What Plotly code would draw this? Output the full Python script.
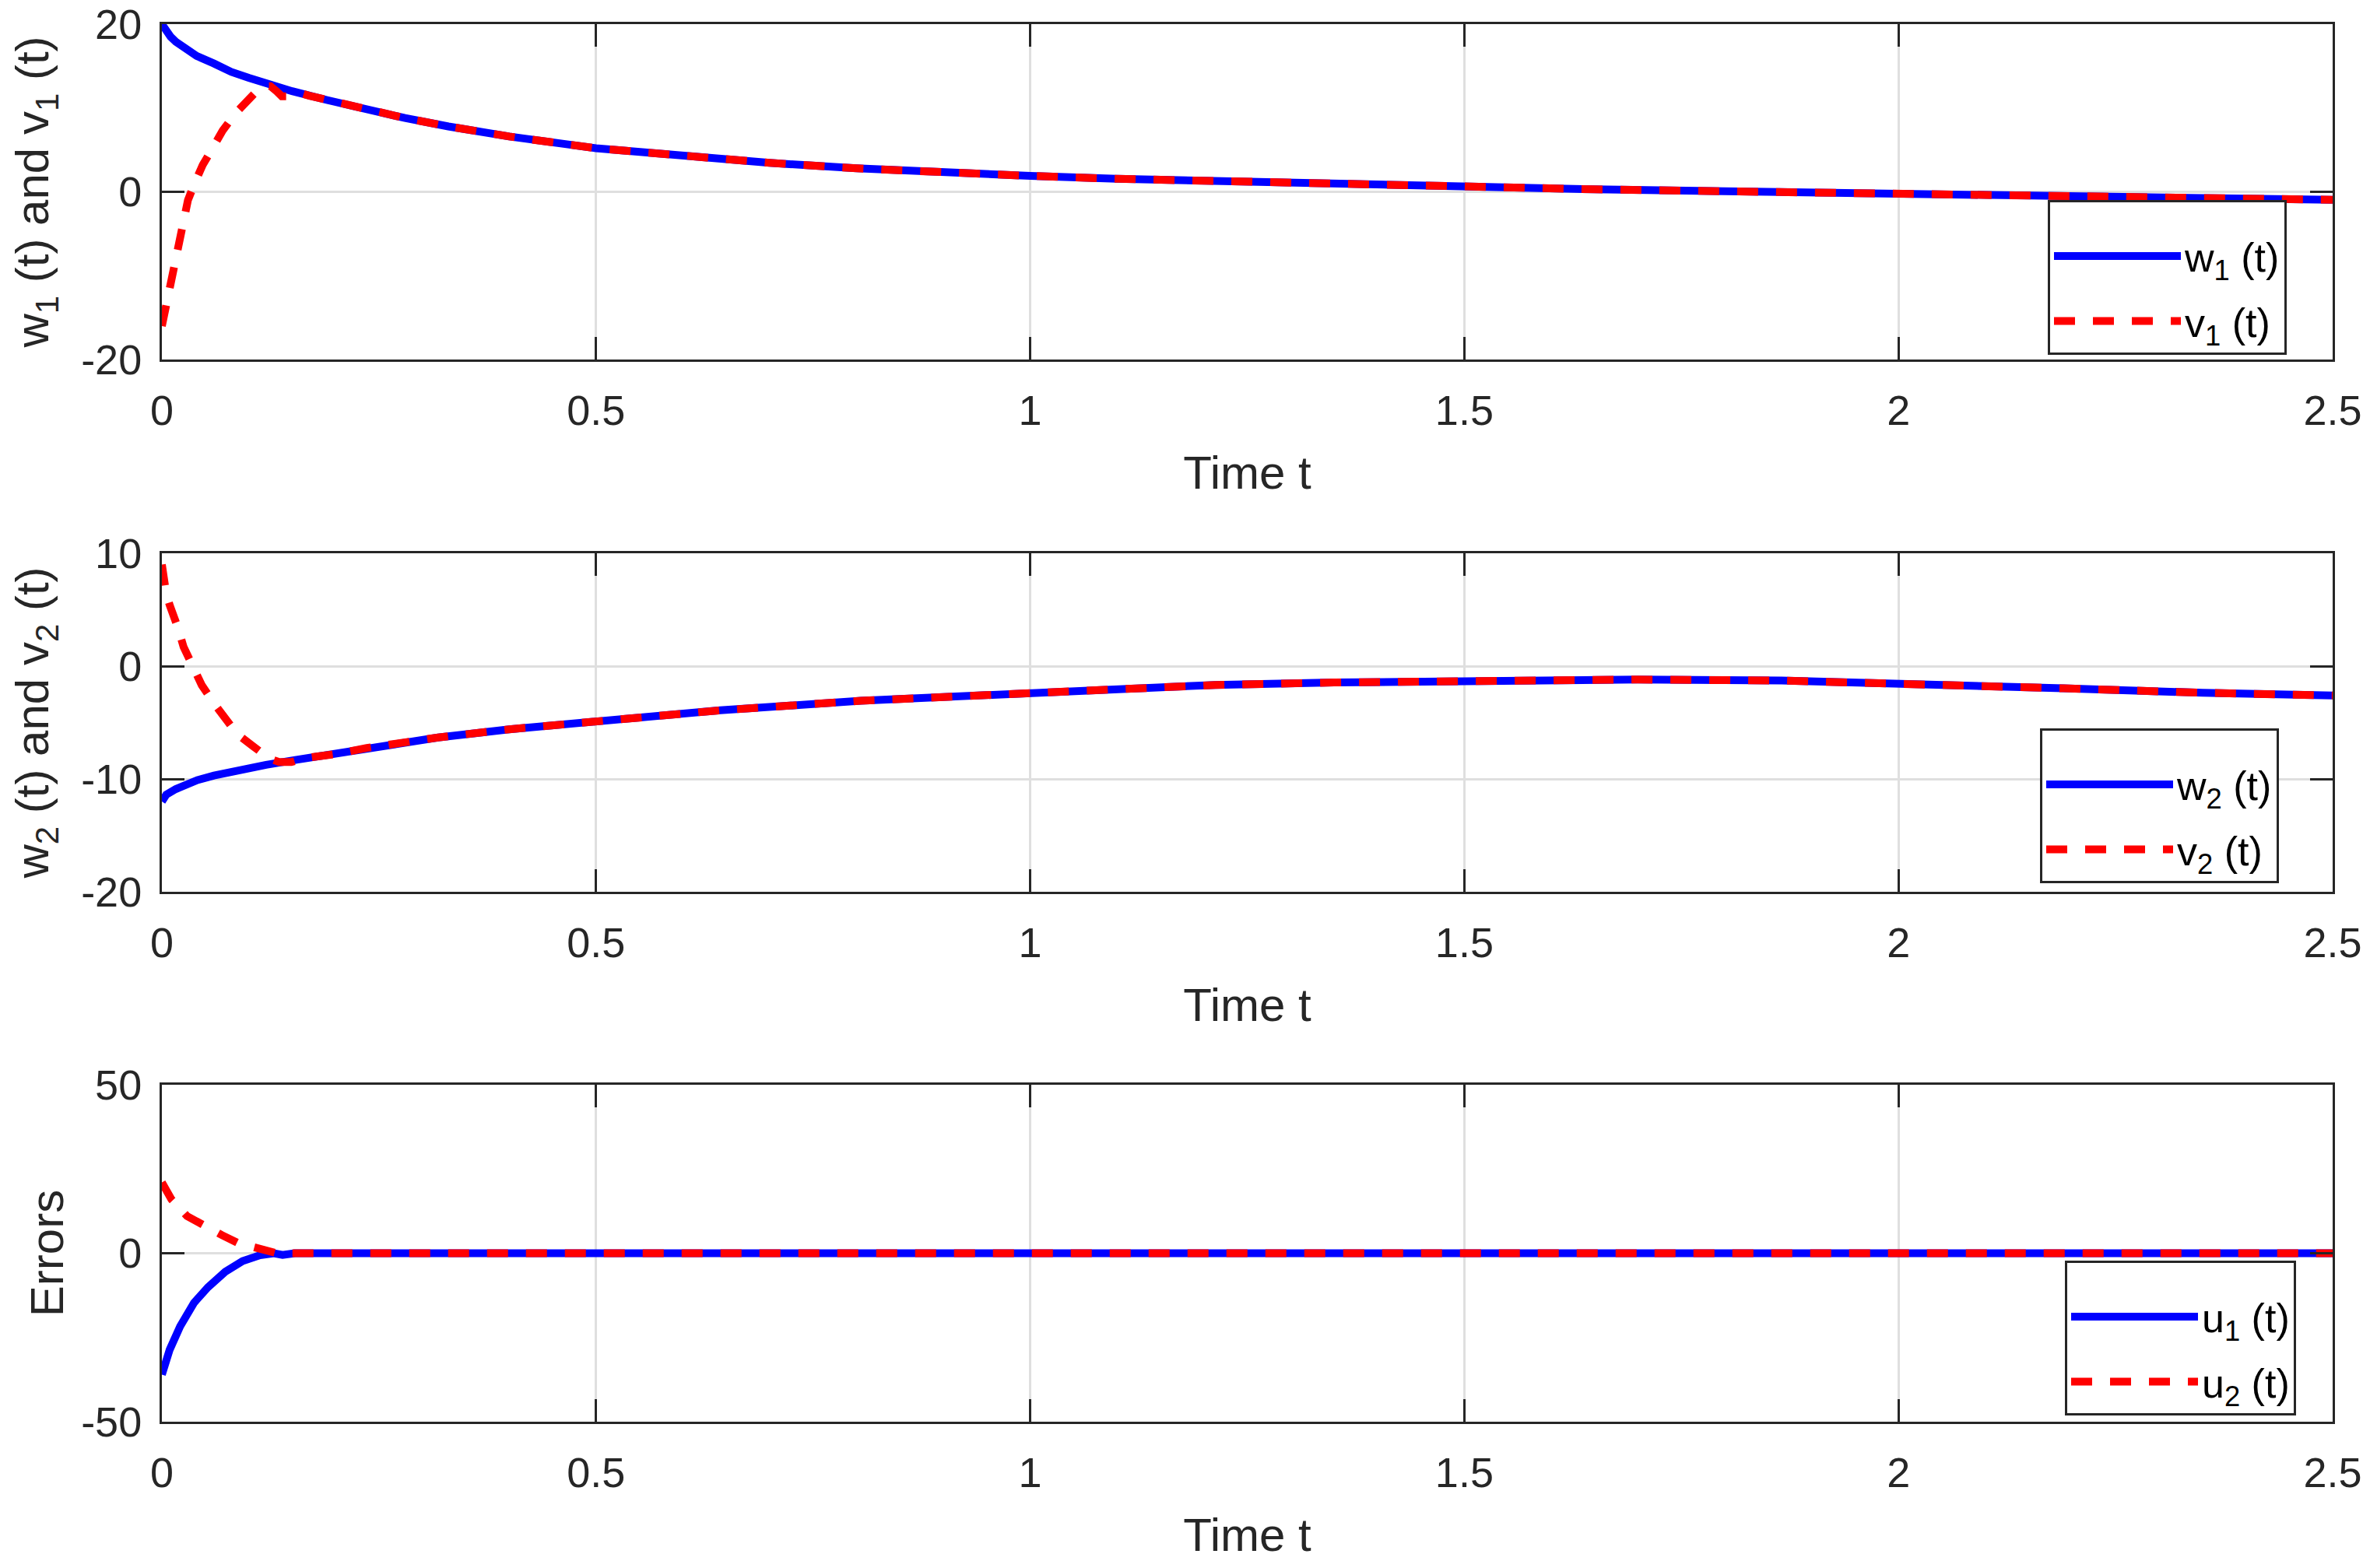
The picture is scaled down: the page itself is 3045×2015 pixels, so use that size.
import plotly.graph_objects as go

# panel 1 : w1(t) and v1(t)
t_w1 = [0, 0.005, 0.01, 0.016, 0.025, 0.04, 0.06, 0.08, 0.1, 0.12, 0.15, 0.19, 0.23, 0.28,
        0.33, 0.4, 0.5, 0.6, 0.7, 0.8, 0.9, 1.0, 1.1, 1.25, 1.4, 1.5, 1.65, 1.8, 2.0, 2.15, 2.3, 2.5]
w1 = [20, 19.0, 18.5, 17.9, 17.2, 16.2, 15.3, 14.3, 13.6, 12.95, 12.0, 10.95, 9.95, 8.8,
      7.8, 6.6, 5.2, 4.25, 3.45, 2.8, 2.3, 1.9, 1.55, 1.15, 0.8, 0.57, 0.3, 0.06, -0.22, -0.45, -0.68, -0.95]
t_v1 = [0, 0.005, 0.01, 0.015, 0.02, 0.025, 0.03, 0.038, 0.047, 0.06, 0.07, 0.085, 0.1, 0.11,
        0.118, 0.125, 0.132, 0.138, 0.145, 0.152, 0.16, 0.17, 0.19, 0.23, 0.28,
        0.33, 0.4, 0.5, 0.6, 0.7, 0.8, 0.9, 1.0, 1.1, 1.25, 1.4, 1.5, 1.65, 1.8, 2.0, 2.15, 2.3, 2.5]
v1 = [-16, -13.5, -10.5, -7.8, -5.4, -3.2, -1.0, 1.1, 3.2, 5.5, 7.3, 9.4, 11.2, 12.1,
      12.6, 12.6, 12.0, 11.4, 11.4, 11.6, 11.75, 11.45, 10.95, 9.95, 8.8,
      7.8, 6.6, 5.2, 4.25, 3.45, 2.8, 2.3, 1.9, 1.55, 1.15, 0.8, 0.57, 0.3, 0.06, -0.22, -0.45, -0.68, -0.95]

# panel 2 : w2(t) and v2(t)
t_w2 = [0, 0.005, 0.016, 0.03, 0.041, 0.06, 0.09, 0.12, 0.155, 0.2, 0.236, 0.318, 0.4, 0.5,
        0.643, 0.805, 1.0, 1.213, 1.35, 1.5, 1.7, 1.865, 2.0, 2.19, 2.35, 2.5]
w2 = [-12.0, -11.4, -10.9, -10.4, -10.1, -9.7, -9.2, -8.75, -8.3, -7.8, -7.25, -6.33, -5.6, -4.84,
      -3.92, -3.07, -2.32, -1.67, -1.45, -1.28, -1.19, -1.28, -1.51, -1.97, -2.36, -2.61]
t_v2 = [0, 0.002, 0.005, 0.009, 0.014, 0.018, 0.025, 0.034, 0.046, 0.06, 0.071, 0.087, 0.105,
        0.115, 0.124, 0.135, 0.149, 0.165, 0.2, 0.236, 0.318, 0.4, 0.5,
        0.643, 0.805, 1.0, 1.213, 1.35, 1.5, 1.7, 1.865, 2.0, 2.19, 2.35, 2.5]
v2 = [9.0, 7.2, 6.4, 5.4, 4.4, 3.5, 1.7, 0.1, -1.7, -3.3, -4.4, -6.05, -7.1,
      -7.7, -8.2, -8.5, -8.5, -8.15, -7.8, -7.25, -6.33, -5.6, -4.84,
      -3.92, -3.07, -2.32, -1.67, -1.45, -1.28, -1.19, -1.28, -1.51, -1.97, -2.36, -2.61]

# panel 3 : errors
t_u1 = [0, 0.009, 0.021, 0.037, 0.053, 0.073, 0.093, 0.113, 0.129, 0.139, 0.153, 0.2, 0.5, 1.0, 1.5, 2.0, 2.5]
u1 = [-36, -28.6, -21.7, -14.7, -10.1, -5.5, -2.3, -0.6, 0, -0.5, 0, 0, 0, 0, 0, 0, 0]
t_u2 = [0, 0.011, 0.029, 0.047, 0.069, 0.087, 0.1, 0.113, 0.122, 0.131, 0.15, 0.2, 0.5, 1.0, 1.5, 2.0, 2.5]
u2 = [21, 16, 11, 8.2, 5.4, 3.1, 2.3, 1.5, 0.7, 0.1, 0, 0, 0, 0, 0, 0, 0]

x_ticks = [0, 0.5, 1, 1.5, 2, 2.5]
x_labels = ['0', '0.5', '1', '1.5', '2', '2.5']
y1_ticks, y1_labels = [-20, 0, 20], ['-20', '0', '20']
y2_ticks, y2_labels = [-20, -10, 0, 10], ['-20', '-10', '0', '10']
y3_ticks, y3_labels = [-50, 0, 50], ['-50', '0', '50']

FONT = 'Liberation Sans, Arial, Helvetica, sans-serif'
DARK = '#262626'
BLUE = '#0000ff'
RED = '#ff0000'
W, H = 3045, 2015
OFF = 8   # page body margin shifts the figure by this much

series = [
    (t_w1, w1, 'w<sub>1</sub> (t)', BLUE, 'solid', 1),
    (t_v1, v1, 'v<sub>1</sub> (t)', RED, '27px,23px', 1),
    (t_w2, w2, 'w<sub>2</sub> (t)', BLUE, 'solid', 2),
    (t_v2, v2, 'v<sub>2</sub> (t)', RED, '27px,23px', 2),
    (t_u1, u1, 'u<sub>1</sub> (t)', BLUE, 'solid', 3),
    (t_u2, u2, 'u<sub>2</sub> (t)', RED, '27px,23px', 3),
]

fig = go.Figure()
for i, (x, y, name, color, dash, p) in enumerate(series):
    sfx = '' if p == 1 else str(p)
    fig.add_trace(go.Scatter(
        x=x, y=y, name=name, mode='lines',
        line=dict(color=color, width=10, dash=dash),
        xaxis='x' + sfx, yaxis='y' + sfx,
        legend='legend' + sfx, legendgroup='g%d' % i,
    ))

def px(v):
    return (v - OFF) / W

def py(v):
    return 1 - (v - OFF) / H

def xaxis(anchor):
    return dict(
        domain=[px(208), px(2997)], anchor=anchor, range=[0, 2.5],
        tickvals=x_ticks, ticktext=x_labels,
        showline=True, linecolor=DARK, linewidth=3, mirror='ticks',
        ticks='inside', ticklen=29, tickwidth=3, tickcolor=DARK,
        showgrid=True, gridcolor='#dfdfdf', gridwidth=3, zeroline=False,
        tickfont=dict(family=FONT, size=54, color=DARK), ticklabelstandoff=16,
        ticklabeloverflow='allow',
        title=dict(text='Time t', font=dict(family=FONT, size=60, color=DARK), standoff=31),
        automargin=False,
    )

def yaxis(anchor, top, bottom, rng, tv, tt, title, standoff):
    return dict(
        domain=[py(bottom), py(top)], anchor=anchor, range=rng,
        tickvals=tv, ticktext=tt,
        showline=True, linecolor=DARK, linewidth=3, mirror='ticks',
        ticks='inside', ticklen=29, tickwidth=3, tickcolor=DARK,
        showgrid=True, gridcolor='#dfdfdf', gridwidth=3, zeroline=False,
        tickfont=dict(family=FONT, size=54, color=DARK), ticklabelstandoff=12,
        ticklabeloverflow='allow',
        title=dict(text=title, font=dict(family=FONT, size=60, color=DARK), standoff=standoff),
        automargin=False,
    )

def legend(xr, yb):
    return dict(
        x=px(xr), y=py(yb), xanchor='right', yanchor='bottom',
        bgcolor='white', bordercolor=DARK, borderwidth=3,
        font=dict(family=FONT, size=52, color='black'),
        tracegroupgap=13, itemwidth=163,
        title=dict(text='\u00a0', font=dict(family=FONT, size=22)),
    )

fig.update_layout(
    width=W, height=H,
    margin=dict(l=0, r=0, t=0, b=0),
    paper_bgcolor='white', plot_bgcolor='white',
    showlegend=True,
    xaxis=xaxis('y'), xaxis2=xaxis('y2'), xaxis3=xaxis('y3'),
    yaxis=yaxis('x', 31, 462, [-20, 20], y1_ticks, y1_labels,
                'w<sub>1</sub> (t) and v<sub>1</sub> (t)', 40),
    yaxis2=yaxis('x2', 711, 1146, [-20, 10], y2_ticks, y2_labels,
                 'w<sub>2</sub> (t) and v<sub>2</sub> (t)', 40),
    yaxis3=yaxis('x3', 1394, 1827, [-50, 50], y3_ticks, y3_labels, 'Errors', 4),
    legend=legend(2938, 456), legend2=legend(2928, 1135), legend3=legend(2950, 1819),
)

fig.write_html("out.html")
